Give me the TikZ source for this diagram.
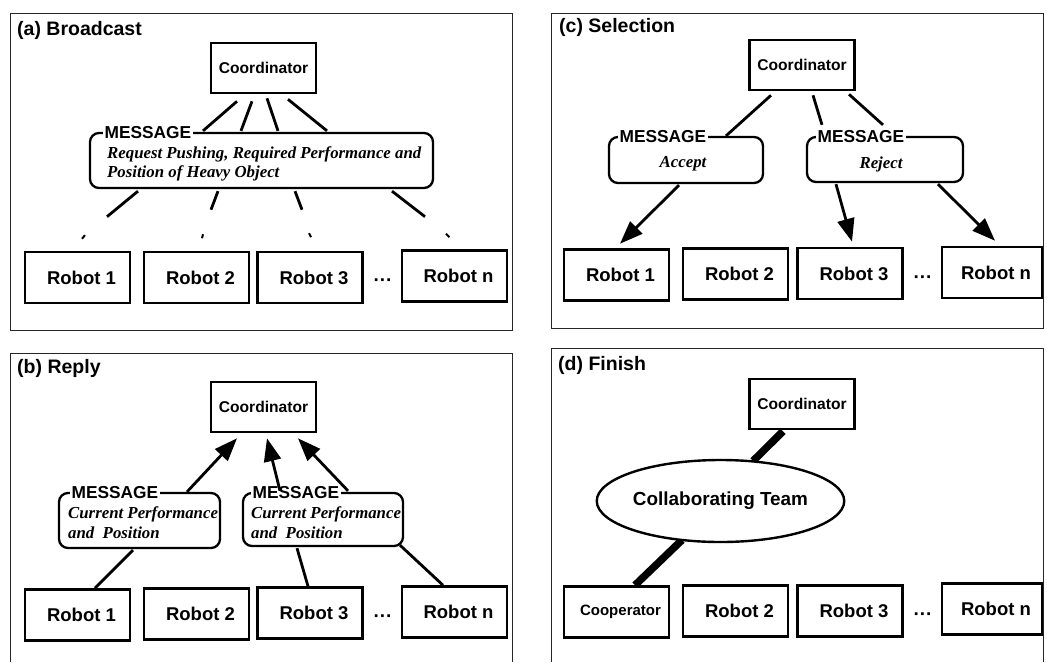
\documentclass[tikz,border=0pt]{standalone}
\usepackage{fontspec}
\setmainfont{Liberation Sans}
\newfontfamily\msgfont{Liberation Serif}
\usetikzlibrary{arrows.meta,shapes.geometric,calc}
\tikzset{
  panel/.style={line width=1pt, draw=black!85},
  ptitle/.style={anchor=west, inner sep=0pt, font=\bfseries\fontsize{19.5}{24}\selectfont},
  coordbox/.style={draw, line width=2.6pt, fill=white, minimum width=105pt, minimum height=50pt, inner sep=0pt, font=\bfseries\fontsize{15.6}{20}\selectfont},
  robot/.style={draw, line width=2.6pt, fill=white, minimum width=105pt, minimum height=51pt, inner sep=0pt, font=\bfseries\fontsize{18.5}{22}\selectfont, execute at begin node={\hspace*{8pt}}},
  msgbox/.style={draw, line width=2.3pt, rounded corners=9pt, fill=white, inner sep=0pt},
  msglabel/.style={anchor=west, fill=white, inner xsep=1.5pt, inner ysep=1pt, font=\bfseries\fontsize{17.3}{20}\selectfont},
  msgtext/.style={inner sep=0pt, align=left, font=\msgfont\bfseries\itshape\fontsize{16.8}{19.5}\selectfont},
  conn/.style={line width=2.8pt},
  arr/.style={line width=2.8pt, -{Triangle[length=23pt,width=17pt]}},
  tick/.style={line width=2pt},
  dots/.style={inner sep=0pt, font=\bfseries\fontsize{19}{22}\selectfont},
  teamlink/.style={line width=7.5pt},
  team/.style={draw, ellipse, line width=2.4pt, fill=white, minimum width=225pt, minimum height=82pt, inner sep=0pt, font=\bfseries\fontsize{18.9}{24}\selectfont},
}
\begin{document}
\begin{tikzpicture}[x=1pt,y=-1pt]
\useasboundingbox (0,0) rectangle (1047,662);
\fill[white] (0,0) rectangle (1047,662);

%% ---------------- (a) Broadcast ----------------
\draw[panel] (10,13) rectangle (512,330);
\node[ptitle] (ta) at (17,30) {(a) Broadcast};
\node[coordbox] (ca) at (263.5,68) {Coordinator};
\node[msgbox, minimum width=343pt, minimum height=55pt] (mA) at (261.5,160.5) {};
\node[msglabel] (lA) at (103,133) {MESSAGE};
\node[msgtext, anchor=west] (xA) at (107,164) {Request Pushing, Required Performance and\\Position of Heavy Object};
\node[robot] (r1a) at (77.5,277.5) {Robot 1};
\node[robot] (r2a) at (196.5,277.5) {Robot 2};
\node[robot] (r3a) at (310,277.5) {Robot 3};
\node[dots] (da) at (383,283) {···};
\node[robot] (rna) at (454.5,276) {Robot n};
\draw[conn] ($(ca.south)+(-26.5,7)$) -- ($(mA.north)+(-58.5,-1)$);
\draw[conn] ($(ca.south)+(-11.5,7)$) -- ($(mA.north)+(-20.5,-1)$);
\draw[conn] ($(ca.south)+(3.5,4)$) -- ($(mA.north)+(16.5,-1)$);
\draw[conn] ($(ca.south)+(24.5,5)$) -- ($(mA.north)+(65.5,-1)$);
\draw[conn] ($(mA.south)+(-123.5,2)$) -- ($(r1a.north)+(29.5,-34)$);
\draw[conn] ($(mA.south)+(-43.5,2)$) -- ($(r2a.north)+(14.5,-41)$);
\draw[conn] ($(mA.south)+(33.5,2)$) -- ($(r3a.north)+(-8,-41)$);
\draw[conn] ($(mA.south)+(130.5,2)$) -- ($(rna.north)+(-29.5,-32.5)$);
\draw[tick] ($(r1a.north)+(7.5,-15.5)$) -- ($(r1a.north)+(4.5,-12)$);
\draw[tick] ($(r2a.north)+(6.5,-16.5)$) -- ($(r2a.north)+(5.5,-12.5)$);
\draw[tick] ($(r3a.north)+(-1,-17.5)$) -- ($(r3a.north)+(1,-13.5)$);
\draw[tick] ($(rna.north)+(-8.5,-15.5)$) -- ($(rna.north)+(-5,-12)$);

%% ---------------- (b) Reply ----------------
\draw[panel] (10,662) -- (10,353) -- (512,353) -- (512,662);
\node[ptitle] (tb) at (17,368) {(b) Reply};
\node[coordbox] (cb) at (263.5,407) {Coordinator};
\node[msgbox, minimum width=161pt, minimum height=55pt] (mB1) at (139.5,520.5) {};
\node[msglabel] (lB1) at (70,493) {MESSAGE};
\node[msgtext, anchor=west] (xB1) at (68,522.5) {Current Performance\\and~~Position};
\node[msgbox, minimum width=160pt, minimum height=53pt] (mB2) at (323,519.5) {};
\node[msglabel] (lB2) at (251,493) {MESSAGE};
\node[msgtext, anchor=west] (xB2) at (251,522.5) {Current Performance\\and~~Position};
\node[robot] (r1b) at (77.5,615) {Robot 1};
\node[robot] (r2b) at (196.5,614) {Robot 2};
\node[robot] (r3b) at (310,613) {Robot 3};
\node[dots] (db) at (383,619) {···};
\node[robot] (rnb) at (454.5,612) {Robot n};
\draw[arr] ($(mB1.north)+(47.5,0)$) -- ($(cb.south)+(-26.5,5)$);
\draw[arr] ($(mB2.north)+(-43,-1)$) -- ($(cb.south)+(3.5,5)$);
\draw[arr] ($(mB2.north)+(25,-1)$) -- ($(cb.south)+(34.5,5)$);
\draw[conn] ($(r1b.north)+(17.5,0)$) -- ($(mB1.south)+(-6.5,1)$);
\draw[conn] ($(r3b.north)+(-2,0)$) -- ($(mB2.south)+(-26,1)$);
\draw[conn] ($(rnb.north)+(-11.5,0)$) -- ($(mB2.south)+(77,-2)$);

%% ---------------- (c) Selection ----------------
\draw[panel] (551,13) rectangle (1043,328);
\node[ptitle] (tc) at (559,27) {(c) Selection};
\node[coordbox] (cc) at (802,65) {Coordinator};
\node[msgbox, minimum width=154pt, minimum height=46pt] (mC1) at (686,160) {};
\node[msglabel] (lC1) at (618,137) {MESSAGE};
\node[msgtext] (xC1) at (683,164) {Accept};
\node[msgbox, minimum width=156pt, minimum height=45pt] (mC2) at (885,159.5) {};
\node[msglabel] (lC2) at (816,137) {MESSAGE};
\node[msgtext] (xC2) at (881,164) {Reject};
\node[robot] (r1c) at (616.5,275) {Robot 1};
\node[robot] (r2c) at (735.5,274) {Robot 2};
\node[robot] (r3c) at (850,273.5) {Robot 3};
\node[dots] (dc) at (923,280) {···};
\node[robot, minimum width=100pt] (rnc) at (992,272.5) {Robot n};
\draw[conn] ($(cc.south)+(-31,4)$) -- ($(mC1.north)+(40,0)$);
\draw[conn] ($(cc.south)+(11,4)$) -- ($(mC2.north)+(-63,-11)$);
\draw[conn] ($(cc.south)+(47,3)$) -- ($(mC2.north)+(-2,-11)$);
\draw[arr] ($(mC1.south)+(-7,1)$) -- ($(r1c.north)+(3.5,-4.5)$);
\draw[arr] ($(mC2.south)+(-49,1)$) -- ($(r3c.north)+(2,-5)$);
\draw[arr] ($(mC2.south)+(53,1)$) -- ($(rnc.north)+(3,-5)$);

%% ---------------- (d) Finish ----------------
\draw[panel] (551,662) -- (551,348) -- (1043,348) -- (1043,662);
\node[ptitle] (td) at (558,365) {(d) Finish};
\node[robot, execute at begin node={}, font=\bfseries\fontsize{15}{20}\selectfont] (cpd) at (616.5,612) {Cooperator};
\node[robot] (r2d) at (735.5,611) {Robot 2};
\node[robot] (r3d) at (850,611) {Robot 3};
\node[dots] (dd) at (923,617) {···};
\node[robot, minimum width=100pt] (rnd) at (992,609) {Robot n};
\node[coordbox] (cd) at (802,404) {Coordinator};
\draw[teamlink] ($(cd.south)+(-19,1)$) -- (720.5+32.5,461);
\draw[teamlink] (720.5-38.5,540) -- ($(cpd.north)+(18.5,0)$);
\node[team] (tm) at (720.5,501) {Collaborating Team};
\end{tikzpicture}
\end{document}
